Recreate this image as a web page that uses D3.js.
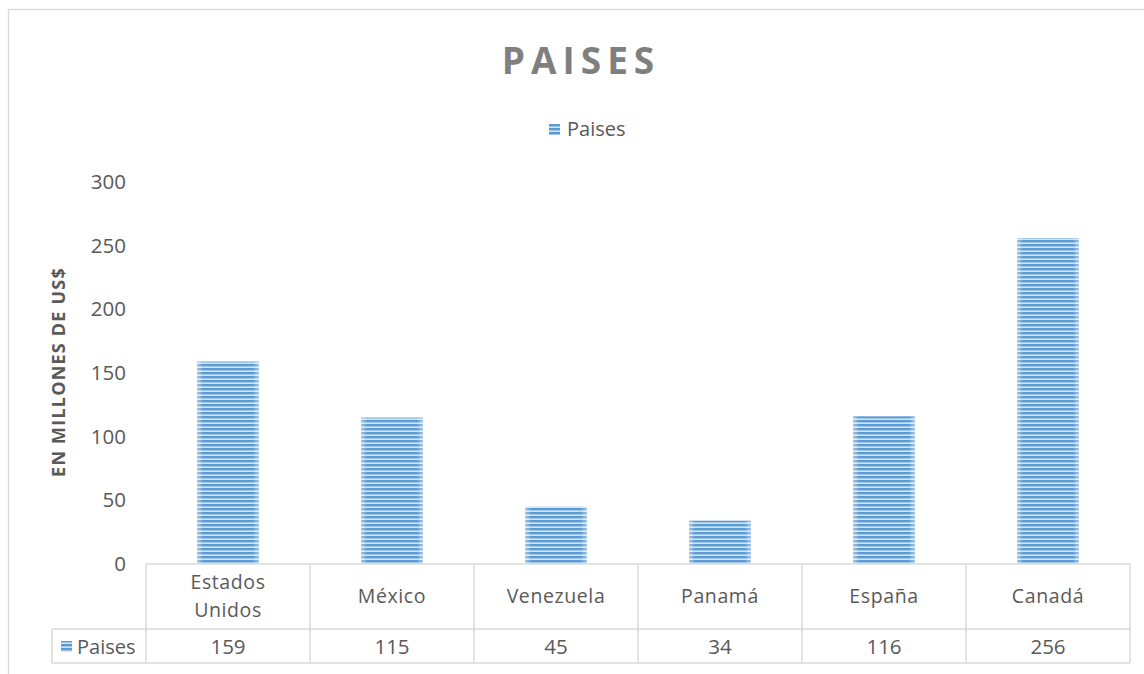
<!DOCTYPE html>
<html>
<head>
<meta charset="UTF-8">
<style>
  * { margin: 0; padding: 0; box-sizing: border-box; }
  html, body { width: 1144px; height: 674px; background: #fff; overflow: hidden; }
  svg { display: block; font-family: "Open Sans", "Noto Sans", sans-serif; }
</style>
<script src="https://cdnjs.cloudflare.com/ajax/libs/d3/7.8.5/d3.min.js"></script>
</head>
<body>
<svg id="chart" width="1144" height="674"></svg>
<script>
// Chart data
var categories = ["Estados Unidos", "México", "Venezuela", "Panamá", "España", "Canadá"];
var values = [159, 115, 45, 34, 116, 256];
var yTicks = [0, 50, 100, 150, 200, 250, 300];
var seriesName = "Paises";

var svg = d3.select("#chart");
var textColor = "#595959";
var gridColor = "#d9d9d9";
var barBlue = "#5b9bd5";
var fs = 19.5;

var plot = { left: 146, right: 1130, top: 182, bottom: 564 };
var rowCat = 65, rowVal = 34;

// Striped fill like the Excel pattern
var defs = svg.append("defs");
var pat = defs.append("pattern")
  .attr("id", "stripes")
  .attr("patternUnits", "userSpaceOnUse")
  .attr("width", 8).attr("height", 4);
pat.append("rect").attr("width", 8).attr("height", 4).attr("fill", "#d3e3f3");
pat.append("rect").attr("y", 0).attr("width", 8).attr("height", 2.4).attr("fill", barBlue);

var edge = defs.append("linearGradient").attr("id", "edgeFade").attr("x1", 0).attr("x2", 1);
edge.append("stop").attr("offset", "0%").attr("stop-color", "#fff").attr("stop-opacity", 0.45);
edge.append("stop").attr("offset", "10%").attr("stop-color", "#fff").attr("stop-opacity", 0);
edge.append("stop").attr("offset", "90%").attr("stop-color", "#fff").attr("stop-opacity", 0);
edge.append("stop").attr("offset", "100%").attr("stop-color", "#fff").attr("stop-opacity", 0.45);

// Chart area border
svg.append("rect")
  .attr("x", 8.5).attr("y", 9.5)
  .attr("width", 1200).attr("height", 700)
  .attr("fill", "none").attr("stroke", gridColor).attr("stroke-width", 1.3);

// Title
svg.append("text")
  .attr("x", 581).attr("y", 74)
  .attr("text-anchor", "middle")
  .attr("font-size", 37).attr("font-weight", "bold")
  .attr("letter-spacing", 6)
  .attr("fill", "#7f7f7f")
  .text("PAISES");

// Legend
svg.append("rect")
  .attr("x", 549).attr("y", 124).attr("width", 11).attr("height", 11)
  .attr("fill", "url(#stripes)");
svg.append("text")
  .attr("x", 567).attr("y", 136)
  .attr("font-size", fs + 0.5).attr("fill", textColor)
  .text(seriesName);

// Scales
var x = d3.scaleBand().domain(categories).range([plot.left, plot.right]).paddingInner(0).paddingOuter(0);
var y = d3.scaleLinear().domain([0, 300]).range([plot.bottom, plot.top]);
var barW = 62;

// Y axis ticks
var yAxis = d3.axisLeft(y).tickValues(yTicks).tickSize(0).tickPadding(20);
var yg = svg.append("g").attr("transform", "translate(" + plot.left + ",0)").call(yAxis);
yg.select(".domain").remove();
yg.selectAll("text")
  .attr("font-size", fs + 1).attr("fill", textColor)
  .attr("font-family", "'Open Sans', 'Noto Sans', sans-serif");

// Y axis title
svg.append("text")
  .attr("transform", "translate(65," + ((plot.top + plot.bottom) / 2 - 1) + ") rotate(-90)")
  .attr("text-anchor", "middle")
  .attr("font-size", 18).attr("font-weight", "bold")
  .attr("letter-spacing", 1.2)
  .attr("fill", textColor)
  .text("EN MILLONES DE US$");

// Bars
var bars = svg.append("g").selectAll("g")
  .data(categories)
  .enter().append("g");
bars.append("rect")
  .attr("x", function(d) { return x(d) + x.bandwidth() / 2 - barW / 2; })
  .attr("y", function(d, i) { return y(values[i]); })
  .attr("width", barW)
  .attr("height", function(d, i) { return y(0) - y(values[i]); })
  .attr("fill", "url(#stripes)");
bars.append("rect")
  .attr("x", function(d) { return x(d) + x.bandwidth() / 2 - barW / 2; })
  .attr("y", function(d, i) { return y(values[i]); })
  .attr("width", barW)
  .attr("height", function(d, i) { return y(0) - y(values[i]); })
  .attr("fill", "url(#edgeFade)");

// Data table
var tbl = svg.append("g").attr("stroke", gridColor).attr("stroke-width", 1.5).attr("fill", "none");
var yCatBottom = plot.bottom + rowCat;
var yValBottom = yCatBottom + rowVal;
tbl.append("line").attr("x1", plot.left).attr("x2", plot.right).attr("y1", plot.bottom).attr("y2", plot.bottom);
tbl.append("line").attr("x1", 52).attr("x2", plot.right).attr("y1", yCatBottom).attr("y2", yCatBottom);
tbl.append("line").attr("x1", 52).attr("x2", plot.right).attr("y1", yValBottom).attr("y2", yValBottom);
tbl.append("line").attr("x1", 52).attr("x2", 52).attr("y1", yCatBottom).attr("y2", yValBottom);
var bounds = categories.map(function(d) { return x(d); }).concat([plot.right]);
tbl.selectAll(".vline").data(bounds).enter().append("line")
  .attr("x1", function(d) { return d; }).attr("x2", function(d) { return d; })
  .attr("y1", plot.bottom).attr("y2", yValBottom);

// Category labels
var catText = svg.append("g").selectAll("text")
  .data(categories)
  .enter().append("text")
  .attr("text-anchor", "middle")
  .attr("font-size", fs).attr("fill", textColor)
  .attr("letter-spacing", 0.6)
  .attr("x", function(d) { return x(d) + x.bandwidth() / 2; })
  .attr("y", function(d) { return d.indexOf(" ") > 0 ? plot.bottom + 25 : plot.bottom + 39; });
catText.each(function(d) {
  var t = d3.select(this);
  var words = d.split(" ");
  if (words.length > 1) {
    words.forEach(function(w, i) {
      t.append("tspan").attr("x", t.attr("x")).attr("dy", i === 0 ? 0 : 28).text(w);
    });
  } else {
    t.text(d);
  }
});

// Value row
svg.append("g").selectAll("text")
  .data(values)
  .enter().append("text")
  .attr("text-anchor", "middle")
  .attr("font-size", fs + 1).attr("fill", textColor)
  .attr("x", function(d, i) { return x(categories[i]) + x.bandwidth() / 2; })
  .attr("y", yValBottom - 9)
  .text(function(d) { return d; });

// Legend key in table
svg.append("rect")
  .attr("x", 61).attr("y", yCatBottom + 12).attr("width", 11).attr("height", 11)
  .attr("fill", "url(#stripes)");
svg.append("text")
  .attr("x", 77).attr("y", yValBottom - 9)
  .attr("font-size", fs + 0.5).attr("fill", textColor)
  .text(seriesName);
</script>
</body>
</html>
